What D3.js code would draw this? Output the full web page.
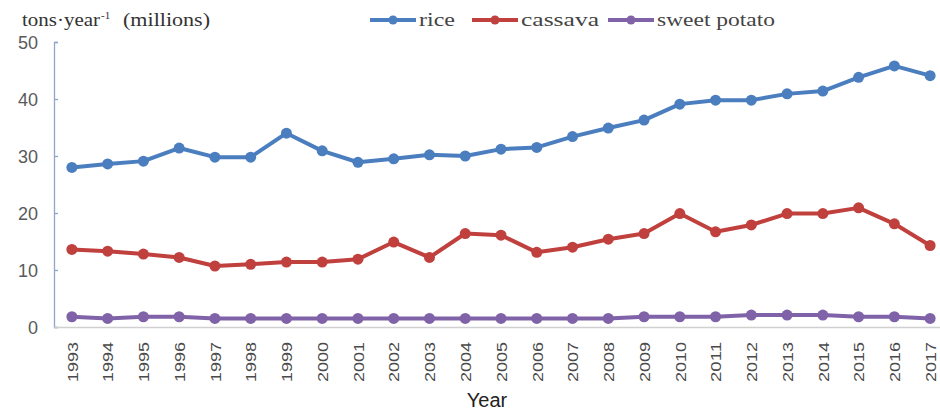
<!DOCTYPE html>
<html>
<head>
<meta charset="utf-8">
<script src="https://cdn.jsdelivr.net/npm/d3@7"></script>
<style>
  html, body { margin: 0; padding: 0; background: #fff; }
  svg { display: block; }
</style>
</head>
<body>
<svg id="chart" width="940" height="411"></svg>
<script>
// Annual production (millions of tons per year)
const years = ["1993","1994","1995","1996","1997","1998","1999","2000","2001","2002","2003","2004","2005",
               "2006","2007","2008","2009","2010","2011","2012","2013","2014","2015","2016","2017"];
const rice = [28.0, 28.6, 29.1, 31.4, 29.8, 29.8, 34.0, 30.9, 28.9, 29.5, 30.2, 30.0, 31.2,
              31.5, 33.4, 34.9, 36.3, 39.1, 39.8, 39.8, 40.9, 41.4, 43.8, 45.8, 44.1];
const cassava = [13.6, 13.3, 12.8, 12.2, 10.7, 11.0, 11.4, 11.4, 11.9, 14.9, 12.2, 16.4, 16.1,
                 13.1, 14.0, 15.4, 16.4, 19.9, 16.7, 17.9, 19.9, 19.9, 20.9, 18.1, 14.3];
const sweetPotato = [1.8, 1.5, 1.8, 1.8, 1.5, 1.5, 1.5, 1.5, 1.5, 1.5, 1.5, 1.5, 1.5,
                     1.5, 1.5, 1.5, 1.8, 1.8, 1.8, 2.1, 2.1, 2.1, 1.8, 1.8, 1.5];
const yTicks = [0, 10, 20, 30, 40, 50];
const seriesNames = ["rice", "cassava", "sweet potato"];
const seriesColors = ["#4a7ebf", "#c0403d", "#8062a8"];

const series = [rice, cassava, sweetPotato].map((vals, i) => ({
  name: seriesNames[i], color: seriesColors[i], values: vals
}));

const svg = d3.select("#chart");
const plotLeft = 54, plotRight = 948, plotTop = 42, plotBottom = 327;

const x = d3.scalePoint().domain(years).range([plotLeft, plotRight]).padding(0.5);
const y = d3.scaleLinear().domain([0, 50]).range([plotBottom, plotTop]);

// Value axis
const yAxis = svg.append("g").attr("transform", `translate(${plotLeft},0)`)
  .call(d3.axisRight(y).tickValues(yTicks).tickSize(4).tickFormat(d3.format("d")));
yAxis.select(".domain").attr("stroke", "#8ea6c8").attr("stroke-width", 1.3);
yAxis.selectAll(".tick line").attr("stroke", "#8ea6c8").attr("stroke-width", 1.3);
yAxis.selectAll(".tick text")
  .attr("x", -16).attr("text-anchor", "end").attr("dy", "0.35em")
  .attr("fill", "#5a5a5a").style("font-family", "'Liberation Sans', Arial, sans-serif").style("font-size", "18px");

// Category axis
const xAxis = svg.append("g").attr("transform", `translate(0,${plotBottom})`)
  .call(d3.axisBottom(x).tickSize(0));
xAxis.select(".domain").attr("stroke", "#d0d0d0").attr("stroke-width", 1.3);
xAxis.selectAll(".tick text")
  .attr("transform", "rotate(-90)")
  .attr("x", -55).attr("y", 0).attr("dx", 0).attr("dy", "0.35em")
  .attr("text-anchor", "start")
  .attr("textLength", 40).attr("lengthAdjust", "spacingAndGlyphs")
  .attr("fill", "#4a4a4a").style("font-family", "'Liberation Sans', Arial, sans-serif").style("font-size", "15px");

// Series lines and markers
const line = d3.line().x((d, i) => x(years[i])).y(d => y(d));
series.forEach(s => {
  svg.append("path").datum(s.values)
    .attr("d", line).attr("fill", "none")
    .attr("stroke", s.color).attr("stroke-width", 4).attr("stroke-linejoin", "round");
  svg.append("g").selectAll("circle").data(s.values).join("circle")
    .attr("cx", (d, i) => x(years[i])).attr("cy", d => y(d)).attr("r", 5.5)
    .attr("fill", s.color);
});

// Axis titles
const yTitle = svg.append("text").attr("y", 26)
  .attr("fill", "#333").style("font-family", "'Liberation Serif', 'Times New Roman', serif").style("font-size", "19px");
yTitle.append("tspan").attr("x", 22).attr("textLength", 78).attr("lengthAdjust", "spacingAndGlyphs").text("tons·year");
yTitle.append("tspan").attr("x", 101).attr("dy", -7).style("font-size", "11px").text("-1");
yTitle.append("tspan").attr("x", 123).attr("dy", 7).attr("textLength", 87).attr("lengthAdjust", "spacingAndGlyphs").text("(millions)");

svg.append("text").attr("x", 487).attr("y", 407).attr("text-anchor", "middle")
  .attr("fill", "#222").style("font-family", "'Liberation Sans', Arial, sans-serif").style("font-size", "20px")
  .text("Year");

// Legend
const legendX = [370, 472, 608];
const legendTextLen = [36, 78, 118];
series.forEach((s, i) => {
  const g = svg.append("g").attr("transform", `translate(${legendX[i]},20)`);
  g.append("line").attr("x1", 0).attr("x2", 46).attr("y1", 0).attr("y2", 0)
    .attr("stroke", s.color).attr("stroke-width", 4);
  g.append("circle").attr("cx", 23).attr("cy", 0).attr("r", 4.5).attr("fill", s.color);
  g.append("text").attr("x", 49).attr("y", 0).attr("dy", "0.32em")
    .attr("textLength", legendTextLen[i]).attr("lengthAdjust", "spacingAndGlyphs")
    .attr("fill", "#444").style("font-family", "'Liberation Serif', 'Times New Roman', serif").style("font-size", "19px")
    .text(s.name);
});
</script>
</body>
</html>
